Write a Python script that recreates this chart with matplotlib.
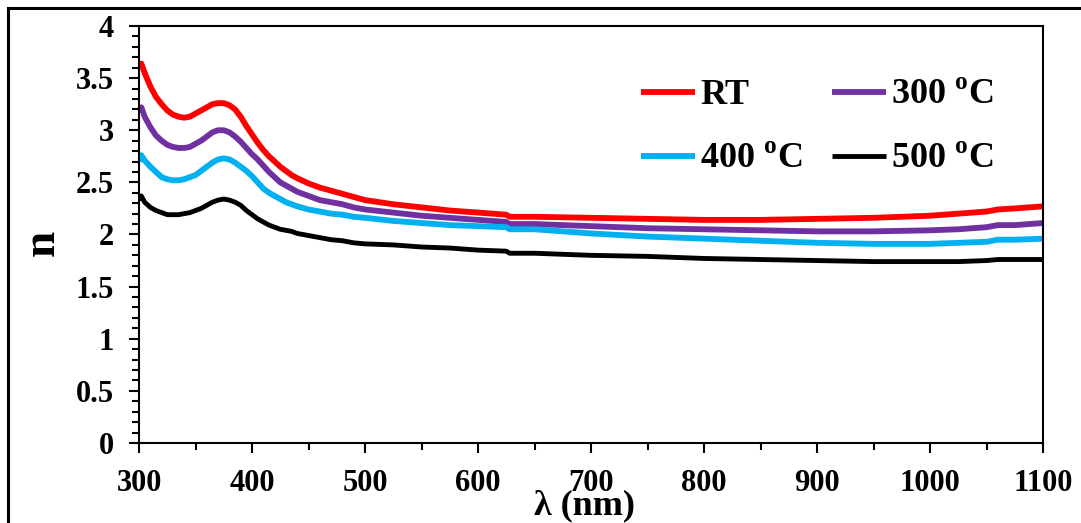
import matplotlib.pyplot as plt
from matplotlib.patches import Rectangle
from matplotlib.ticker import MultipleLocator

plt.rcParams['font.family'] = 'Liberation Serif'
plt.rcParams['font.weight'] = 'bold'
plt.rcParams['mathtext.fontset'] = 'custom'
plt.rcParams['mathtext.rm'] = 'Liberation Serif:bold'
plt.rcParams['mathtext.bf'] = 'Liberation Serif:bold'

# wavelength (nm) and refractive index n for each annealing condition
wl = [300, 302, 305, 310, 315, 320, 325, 330, 335, 340, 345, 350, 355, 360,
      365, 370, 375, 380, 385, 390, 395, 400, 405, 410, 415, 420, 425, 430,
      435, 440, 450, 460, 470, 480, 490, 500,
      525, 550, 575, 600, 625, 628, 650, 700, 750, 800, 850, 900, 950, 1000,
      1025, 1050, 1060, 1075, 1100]
n_rt = [3.62, 3.64, 3.55, 3.42, 3.32, 3.25, 3.19, 3.15, 3.13, 3.12, 3.13, 3.16,
        3.19, 3.22, 3.25, 3.26, 3.26, 3.24, 3.20, 3.13, 3.04, 2.96, 2.88, 2.81,
        2.75, 2.70, 2.65, 2.61, 2.57, 2.54, 2.49, 2.45, 2.42, 2.39, 2.36, 2.33,
        2.29, 2.26, 2.23, 2.21, 2.19, 2.17, 2.17, 2.16, 2.15, 2.14, 2.14, 2.15,
        2.16, 2.18, 2.20, 2.22, 2.24, 2.25, 2.27]
n_300 = [3.20, 3.22, 3.13, 3.03, 2.95, 2.90, 2.86, 2.84, 2.83, 2.83, 2.84, 2.87,
         2.90, 2.94, 2.98, 3.00, 3.00, 2.98, 2.94, 2.89, 2.83, 2.77, 2.72, 2.66,
         2.60, 2.55, 2.50, 2.47, 2.44, 2.41, 2.37, 2.33, 2.31, 2.29, 2.26, 2.24,
         2.21, 2.18, 2.16, 2.14, 2.12, 2.10, 2.10, 2.08, 2.06, 2.05, 2.04, 2.03,
         2.03, 2.04, 2.05, 2.07, 2.09, 2.09, 2.11]
n_400 = [2.70, 2.76, 2.71, 2.65, 2.60, 2.55, 2.53, 2.52, 2.52, 2.53, 2.55, 2.57,
         2.61, 2.65, 2.69, 2.72, 2.73, 2.72, 2.69, 2.65, 2.61, 2.56, 2.50, 2.44,
         2.40, 2.37, 2.34, 2.31, 2.29, 2.27, 2.24, 2.22, 2.20, 2.19, 2.17, 2.16,
         2.13, 2.11, 2.09, 2.08, 2.07, 2.05, 2.05, 2.01, 1.98, 1.96, 1.94, 1.92,
         1.91, 1.91, 1.92, 1.93, 1.95, 1.95, 1.96]
n_500 = [2.33, 2.37, 2.31, 2.26, 2.23, 2.21, 2.19, 2.19, 2.19, 2.20, 2.21, 2.23,
         2.25, 2.28, 2.31, 2.33, 2.34, 2.33, 2.31, 2.28, 2.23, 2.19, 2.15, 2.12,
         2.09, 2.07, 2.05, 2.04, 2.03, 2.01, 1.99, 1.97, 1.95, 1.94, 1.92, 1.91,
         1.90, 1.88, 1.87, 1.85, 1.84, 1.82, 1.82, 1.80, 1.79, 1.77, 1.76, 1.75,
         1.74, 1.74, 1.74, 1.75, 1.76, 1.76, 1.76]

labels = ['RT', r'300 $^{\mathbf{o}}$C', r'400 $^{\mathbf{o}}$C', r'500 $^{\mathbf{o}}$C']
colors = ['#FF0000', '#7030A0', '#00B0F0', '#000000']
widths = [4.2, 4.2, 4.2, 3.5]

fig = plt.figure(figsize=(10.81, 5.23), dpi=100)
ax = fig.add_axes([0.1286, 0.153, 0.8363, 0.7973])

lines = []
for ys, c, w, lab in zip([n_rt, n_300, n_400, n_500], colors, widths, labels):
    ln, = ax.plot(wl, ys, color=c, lw=w, solid_capstyle='butt',
                  solid_joinstyle='round', label=lab)
    lines.append(ln)

ax.set_xlim(300, 1100)
ax.set_ylim(0, 4)
ax.xaxis.set_major_locator(MultipleLocator(100))
ax.xaxis.set_minor_locator(MultipleLocator(50))
ax.yaxis.set_major_locator(MultipleLocator(0.5))
ax.yaxis.set_minor_locator(MultipleLocator(0.1))
ax.yaxis.set_major_formatter(plt.FuncFormatter(lambda v, p: f'{v:g}'))

for s in ax.spines.values():
    s.set_linewidth(1.5)
ax.tick_params(which='major', direction='out', length=7, width=1.5,
               labelsize=22)
ax.tick_params(which='minor', direction='out', length=5, width=1.5)
ax.tick_params(axis='x', which='major', pad=12)
ax.tick_params(axis='y', which='major', pad=11)

ax.set_xlabel('λ (nm)', fontsize=26, fontweight='bold')
ax.xaxis.set_label_coords(0.493, -0.11)
ax.set_ylabel('n', fontsize=34, fontweight='bold')
ax.yaxis.set_label_coords(-0.083, 0.48)

# two columns filled row by row: RT, 300 / 400, 500
order = [0, 2, 1, 3]
ax.legend([lines[i] for i in order], [labels[i] for i in order],
          ncol=2, loc='upper left', bbox_to_anchor=(0.555, 0.873),
          frameon=False, fontsize=26, handlelength=1.5, handletextpad=0.15,
          labelspacing=0.85, columnspacing=0.8, borderpad=0, borderaxespad=0)

# outer frame around the whole chart
fig.add_artist(Rectangle((8 / 1081, -0.2), 1.2, 1.2 - 8 / 523,
                         transform=fig.transFigure, fill=False, lw=2.2,
                         edgecolor='black'))

fig.savefig('out.png', dpi=100)
